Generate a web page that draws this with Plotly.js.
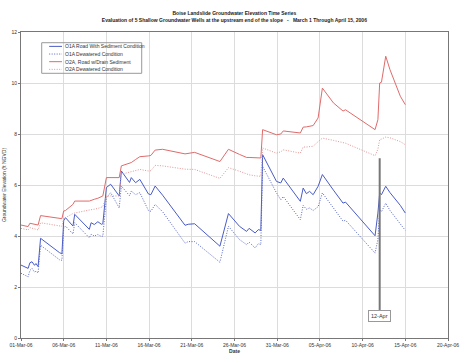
<!DOCTYPE html>
<html>
<head>
<meta charset="utf-8">
<script src="https://cdn.plot.ly/plotly-3.0.1.min.js"></script>
<style>html,body{margin:0;padding:0;background:#fff;}#chart{width:466px;height:360px;}</style>
</head>
<body>
<div id="chart"></div>
<script>
// Sample times (2006)
const times = [
 '2006-03-01 00:00','2006-03-01 20:00','2006-03-02 01:00','2006-03-02 07:00','2006-03-02 14:00','2006-03-02 18:00',
 '2006-03-03 00:00','2006-03-03 07:00','2006-03-05 12:00','2006-03-05 19:00','2006-03-06 00:00','2006-03-06 05:00',
 '2006-03-07 02:00','2006-03-07 07:00','2006-03-09 00:00','2006-03-09 05:00','2006-03-09 14:00','2006-03-10 00:00',
 '2006-03-10 10:00','2006-03-10 14:00','2006-03-11 00:00','2006-03-11 12:00','2006-03-12 12:00','2006-03-12 18:00',
 '2006-03-13 17:00','2006-03-13 22:00','2006-03-14 10:00','2006-03-14 22:00','2006-03-15 22:00','2006-03-16 05:00',
 '2006-03-16 17:00','2006-03-17 14:00','2006-03-20 05:00','2006-03-20 14:00','2006-03-21 08:00','2006-03-24 07:00',
 '2006-03-25 07:00','2006-03-26 14:00','2006-03-27 10:00','2006-03-27 17:00','2006-03-28 10:00','2006-03-28 19:00',
 '2006-03-29 02:00','2006-03-29 07:00','2006-03-30 22:00','2006-03-31 10:00','2006-03-31 17:00','2006-04-02 17:00',
 '2006-04-03 01:00','2006-04-03 10:00','2006-04-03 19:00','2006-04-04 05:00','2006-04-04 19:00','2006-04-05 07:00',
 '2006-04-06 14:00','2006-04-07 17:00','2006-04-08 00:00','2006-04-11 11:00','2006-04-11 19:00','2006-04-12 00:00',
 '2006-04-12 05:00','2006-04-12 17:00','2006-04-13 05:00','2006-04-14 10:00','2006-04-15 00:00'
];
const o1aRoad = [
 2.86,2.73,2.95,2.99,2.85,2.92,2.80,3.91,3.35,3.30,4.60,4.72,
 4.39,4.85,4.26,4.52,4.45,4.56,4.46,4.48,5.90,6.03,5.57,6.55,
 6.10,6.29,6.09,6.22,5.65,5.62,5.96,5.60,4.42,4.46,4.48,3.60,
 4.88,4.38,4.18,4.30,4.12,4.25,4.22,7.19,6.14,6.08,6.27,5.36,
 5.88,5.66,5.75,5.62,5.95,6.41,5.80,5.29,5.33,4.01,4.90,5.69,
 5.62,5.95,5.70,5.20,4.90
];
const o1aDewatered = [
 2.54,2.40,2.65,2.73,2.58,2.62,2.55,3.64,3.07,3.05,4.30,4.39,
 4.08,4.52,3.93,4.07,4.00,4.06,3.98,4.00,5.50,5.70,5.10,5.96,
 5.58,5.76,5.62,5.70,5.00,4.97,5.24,4.95,3.72,3.78,3.78,2.97,
 4.38,3.86,3.66,3.76,3.53,3.70,3.66,6.73,5.69,5.42,5.55,4.64,
 5.20,5.05,5.10,5.00,5.15,5.69,5.10,4.58,4.62,3.33,3.86,5.03,
 4.95,5.29,5.00,4.50,4.22
];
const o2aRoad = [
 4.43,4.37,4.50,4.48,4.45,4.44,4.43,4.80,4.70,4.68,4.98,5.00,
 5.24,5.37,5.37,5.40,5.44,5.48,5.53,5.57,6.29,6.29,6.29,6.75,
 6.85,6.88,7.00,7.11,7.14,7.16,7.37,7.40,7.22,7.24,7.28,6.92,
 7.40,7.20,7.08,7.08,7.08,7.07,7.06,8.17,7.97,8.00,8.12,8.04,
 8.27,8.28,8.30,8.33,8.63,9.80,9.22,8.90,8.95,8.17,8.56,10.00,
 10.03,11.05,10.52,9.48,9.15
];
const o2aDewatered = [
 4.30,4.24,4.33,4.30,4.26,4.25,4.24,4.52,4.38,4.38,4.69,4.72,
 4.88,4.90,5.02,5.04,5.05,5.08,5.12,5.15,5.57,5.57,5.57,6.42,
 6.50,6.50,6.55,6.61,6.55,6.56,6.77,6.75,6.62,6.62,6.61,6.26,
 6.68,6.54,6.42,6.40,6.36,6.35,6.34,7.45,7.25,7.30,7.38,7.25,
 7.49,7.49,7.50,7.52,7.70,7.84,7.75,7.65,7.64,7.15,7.40,7.78,
 7.80,7.88,7.85,7.70,7.58
];
const seriesNames = ['O1A Road With Sediment Condition','O1A Dewatered Condition','O2A, Road w/Drain Sediment','O2A Dewatered Condition'];
const seriesValues = [o1aRoad, o1aDewatered, o2aRoad, o2aDewatered];
const seriesColors = ['#4a5cc6','#5566c8','#e06b6b','#e59494'];
const seriesDash = ['solid','1px,1.5px','solid','1px,1.5px'];
const yTicks = [0,2,4,6,8,10,12];
const markerDate = '2006-04-12';
const markerLabel = '12-Apr';

const FONT = 'Liberation Sans, Arial, sans-serif';
const traces = seriesNames.map((n,i)=>({
  type:'scatter', mode:'lines', name:n, x:times, y:seriesValues[i],
  line:{color:seriesColors[i], width:1, dash:seriesDash[i]}, showlegend:false
}));

// manual compact legend
const shapes = [];
const annotations = [];
shapes.push({type:'rect', xref:'paper', yref:'paper', x0:0.0485, x1:0.2827, y0:0.865, y1:0.965,
  line:{color:'#999', width:1}, fillcolor:'rgba(255,255,255,0)'});
const rowY = [0.953, 0.928, 0.903, 0.878];
seriesNames.forEach((n,i)=>{
  shapes.push({type:'line', xref:'paper', yref:'paper', x0:0.066, x1:0.096, y0:rowY[i], y1:rowY[i],
    line:{color:seriesColors[i], width:1, dash:seriesDash[i]}});
  annotations.push({xref:'paper', yref:'paper', x:0.099, y:rowY[i], xanchor:'left', yanchor:'middle',
    text:n, showarrow:false, font:{family:FONT, size:5, color:'#333'}});
});
// 12-Apr marker
shapes.push({type:'line', xref:'x', yref:'y', x0:markerDate, x1:markerDate, y0:1.1, y1:7.05,
  line:{color:'#777', width:2}});
annotations.push({xref:'x', yref:'y', x:markerDate, y:0.86, text:markerLabel, showarrow:false,
  font:{family:FONT, size:5.5, color:'#333'}, bordercolor:'#999', borderwidth:1, borderpad:2, bgcolor:'#fff'});

const layout = {
  width:466, height:360,
  margin:{l:21, r:18, t:32, b:22},
  paper_bgcolor:'#fff', plot_bgcolor:'#fff',
  font:{family:FONT, size:5, color:'#333'},
  title:{text:'<b>Boise Landslide Groundwater Elevation Time Series</b><br><b>Evaluation of 5 Shallow Groundwater Wells at the upstream end of the slope   -   March 1 Through April 15, 2006</b>',
    font:{family:FONT, size:5, color:'#222'}, x:0.503, xanchor:'center', y:0.958, yanchor:'middle'},
  xaxis:{type:'date', range:['2006-03-01','2006-04-20'], tick0:'2006-03-01', dtick:5*86400000,
    tickformat:'%d-%b-%y', tickfont:{family:FONT, size:5, color:'#333'},
    showgrid:true, gridcolor:'#dcdcdc', gridwidth:1, showline:true, linecolor:'#777', linewidth:1, mirror:true,
    ticks:'outside', ticklen:2, tickcolor:'#777', zeroline:false,
    title:{text:'<b>Date</b>', font:{family:FONT, size:5, color:'#333'}, standoff:2}},
  yaxis:{range:[0,12], tickvals:yTicks, tickfont:{family:FONT, size:5, color:'#333'},
    showgrid:true, gridcolor:'#dcdcdc', gridwidth:1, showline:true, linecolor:'#777', linewidth:1, mirror:true,
    ticks:'outside', ticklen:2, tickcolor:'#777', zeroline:false,
    title:{text:'Groundwater Elevation (ft NGVD)', font:{family:FONT, size:5, color:'#333'}, standoff:4}},
  shapes:shapes, annotations:annotations, showlegend:false
};
Plotly.newPlot('chart', traces, layout, {displayModeBar:false, staticPlot:true});
</script>
</body>
</html>
